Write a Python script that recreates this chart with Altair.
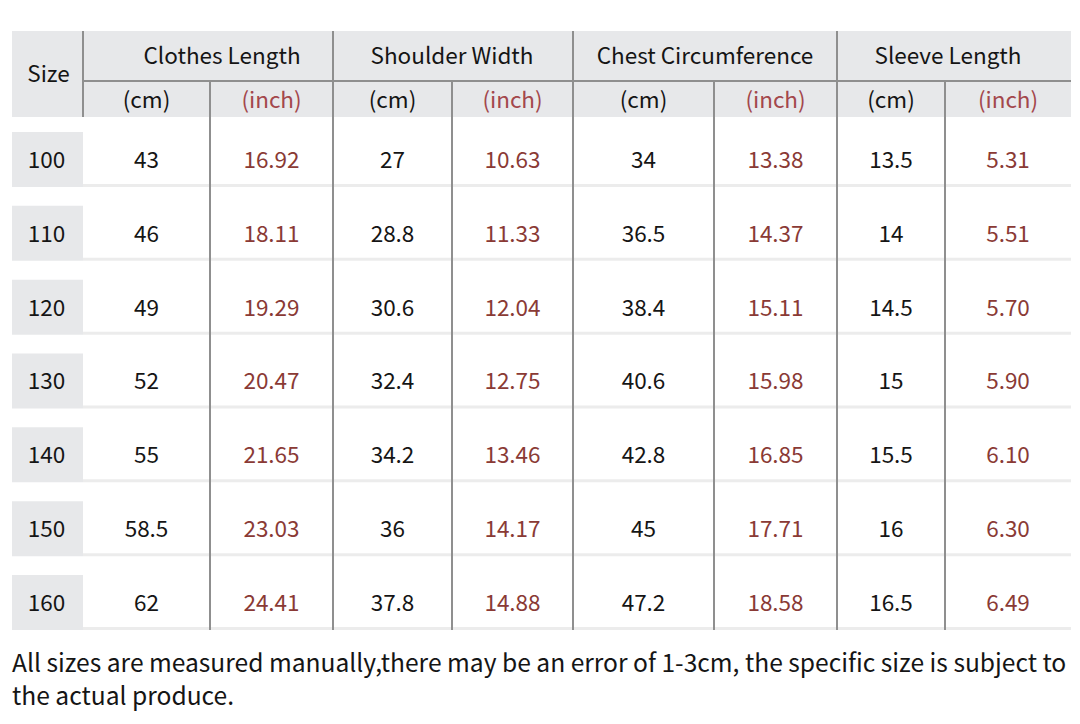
import altair as alt
import pandas as pd

# ---------------- data ----------------
sizes = ["100", "110", "120", "130", "140", "150", "160"]
measures = ["Clothes Length", "Shoulder Width", "Chest Circumference", "Sleeve Length"]
clothes_cm = ["43", "46", "49", "52", "55", "58.5", "62"]
clothes_inch = ["16.92", "18.11", "19.29", "20.47", "21.65", "23.03", "24.41"]
shoulder_cm = ["27", "28.8", "30.6", "32.4", "34.2", "36", "37.8"]
shoulder_inch = ["10.63", "11.33", "12.04", "12.75", "13.46", "14.17", "14.88"]
chest_cm = ["34", "36.5", "38.4", "40.6", "42.8", "45", "47.2"]
chest_inch = ["13.38", "14.37", "15.11", "15.98", "16.85", "17.71", "18.58"]
sleeve_cm = ["13.5", "14", "14.5", "15", "15.5", "16", "16.5"]
sleeve_inch = ["5.31", "5.51", "5.70", "5.90", "6.10", "6.30", "6.49"]
unit_labels = ["(cm)", "(inch)"]
size_label = "Size"
note_lines = [
    "All sizes are measured manually,there may be an error of 1-3cm, the specific size is subject to",
    "the actual produce.",
]

# ---------------- layout (page pixels) ----------------
col_edges = [12, 83, 210, 333, 452, 573, 714, 837, 945, 1071]
group_title_shift = [14, -1, 0, -6]
header_top, header_mid, header_bottom = 31, 81, 117
row_top0, row_pitch, row_box = 132, 73.83, 55
note_x, note_y0, note_pitch = 12, 665, 33

HEADER_BG = "#e7e8ea"
LINE = "#8f8f8f"
SEP = "#ececec"
TXT = "#151515"
RED = "#8a3a35"
RED_HEAD = "#a3474c"
FONT = "Noto Sans CJK SC"
FS = 22.5
FS_NOTE = 24.6

value_cols = [clothes_cm, clothes_inch, shoulder_cm, shoulder_inch,
              chest_cm, chest_inch, sleeve_cm, sleeve_inch]

# rectangles
rects = [dict(x=col_edges[0], x2=col_edges[-1], y=header_top, y2=header_bottom, fill=HEADER_BG)]
for i, _ in enumerate(sizes):
    top = row_top0 + i * row_pitch
    rects.append(dict(x=col_edges[0], x2=col_edges[1], y=top, y2=top + row_box, fill=HEADER_BG))
    rects.append(dict(x=col_edges[1], x2=col_edges[-1], y=top + row_box - 3, y2=top + row_box, fill=SEP))
rect_df = pd.DataFrame(rects)

# lines
last_bottom = row_top0 + (len(sizes) - 1) * row_pitch + row_box
lines = [dict(x=col_edges[1], x2=col_edges[-1], y=header_mid, y2=header_mid),
         dict(x=col_edges[1], x2=col_edges[1], y=header_top, y2=header_bottom)]
for j in range(2, len(col_edges) - 1):
    is_group = (j % 2 == 1)
    lines.append(dict(x=col_edges[j], x2=col_edges[j],
                      y=header_top if is_group else header_mid, y2=last_bottom))
line_df = pd.DataFrame(lines)

# texts
texts = [dict(x=(col_edges[0] + col_edges[1]) / 2 + 1, y=(header_top + header_bottom) / 2 + 1,
              t=size_label, c=TXT)]
for g, m in enumerate(measures):
    x0, x1 = col_edges[1 + 2 * g], col_edges[3 + 2 * g]
    texts.append(dict(x=(x0 + x1) / 2 + group_title_shift[g], y=(header_top + header_mid) / 2 + 1,
                      t=m, c=TXT))
for j in range(8):
    x0, x1 = col_edges[1 + j], col_edges[2 + j]
    texts.append(dict(x=(x0 + x1) / 2, y=(header_mid + header_bottom) / 2 + 2,
                      t=unit_labels[j % 2], c=TXT if j % 2 == 0 else RED_HEAD))
for i, s in enumerate(sizes):
    cy = row_top0 + i * row_pitch + row_box / 2 + 1.5
    texts.append(dict(x=(col_edges[0] + col_edges[1]) / 2 - 1, y=cy, t=s, c=TXT))
    for j, vals in enumerate(value_cols):
        x0, x1 = col_edges[1 + j], col_edges[2 + j]
        texts.append(dict(x=(x0 + x1) / 2, y=cy, t=vals[i], c=TXT if j % 2 == 0 else RED))
text_df = pd.DataFrame(texts)

note_df = pd.DataFrame([dict(x=note_x, y=note_y0 + k * note_pitch, t=l) for k, l in enumerate(note_lines)])

X = alt.X("x:Q", scale=alt.Scale(domain=[8, 1072], nice=False, zero=False), axis=None)
X2 = alt.X2("x2:Q")
Y = alt.Y("y:Q", scale=alt.Scale(domain=[8, 716], nice=False, zero=False, reverse=True), axis=None)
Y2 = alt.Y2("y2:Q")

rect_layer = alt.Chart(rect_df).mark_rect().encode(
    x=X, x2=X2, y=Y, y2=Y2, color=alt.Color("fill:N", scale=None))
line_layer = alt.Chart(line_df).mark_rule(color=LINE, strokeWidth=2).encode(
    x=X, x2=X2, y=Y, y2=Y2)
text_layer = alt.Chart(text_df).mark_text(
    font=FONT, fontSize=FS, align="center", baseline="middle").encode(
    x=X, y=Y, text="t:N", color=alt.Color("c:N", scale=None))
note_layer = alt.Chart(note_df).mark_text(
    font=FONT, fontSize=FS_NOTE, align="left", baseline="middle", color=TXT).encode(
    x=X, y=Y, text="t:N")

chart = alt.layer(rect_layer, line_layer, text_layer, note_layer).properties(
    width=1064, height=708, padding=0, autosize=alt.AutoSizeParams(type="none"),
    background="white",
).configure_view(stroke=None)

chart.save("out.html", embed_options={"renderer": "svg", "actions": False})
